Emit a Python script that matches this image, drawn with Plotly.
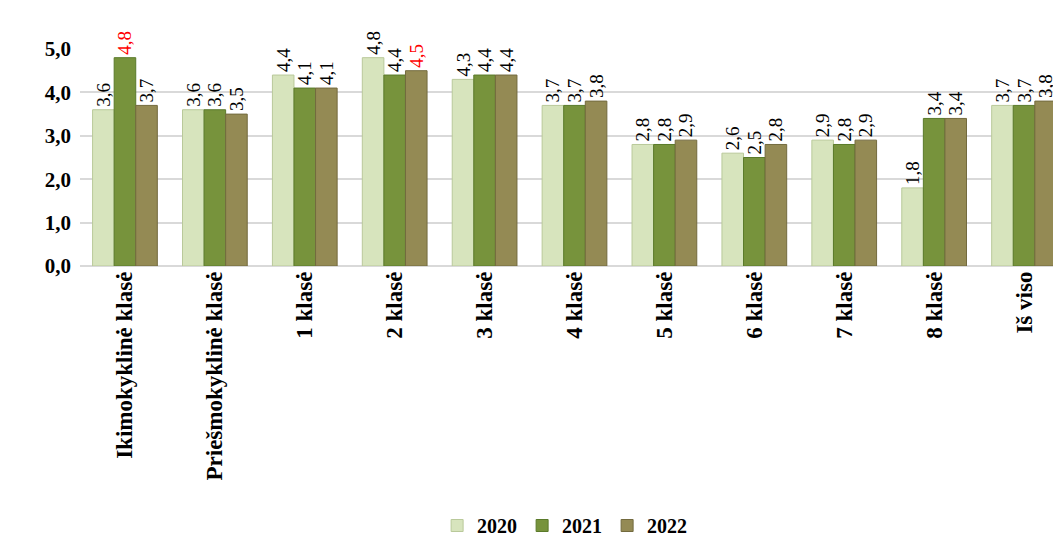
import plotly.graph_objects as go

categories = ["Ikimokyklinė klasė", "Priešmokyklinė klasė", "1 klasė", "2 klasė", "3 klasė",
              "4 klasė", "5 klasė", "6 klasė", "7 klasė", "8 klasė", "Iš viso"]
years = ["2020", "2021", "2022"]
v2020 = [3.6, 3.6, 4.4, 4.8, 4.3, 3.7, 2.8, 2.6, 2.9, 1.8, 3.7]
v2021 = [4.8, 3.6, 4.1, 4.4, 4.4, 3.7, 2.8, 2.5, 2.8, 3.4, 3.7]
v2022 = [3.7, 3.5, 4.1, 4.5, 4.4, 3.8, 2.9, 2.8, 2.9, 3.4, 3.8]
highlight_2021 = ["Ikimokyklinė klasė"]
highlight_2022 = ["2 klasė"]

colors = ["#d7e4bd", "#77933c", "#948a54"]
edge = ["#b9c99a", "#5a7a2a", "#736a3e"]
series = [v2020, v2021, v2022]
highlights = [[], highlight_2021, highlight_2022]

fig = go.Figure()
for name, vals, col, ed, hl in zip(years, series, colors, edge, highlights):
    tcolors = ["#ff0000" if c in hl else "#000000" for c in categories]
    fig.add_trace(go.Bar(
        x=categories, y=vals, name=name,
        marker=dict(color=col, line=dict(color=ed, width=1)),
        text=[f"{v:.1f}".replace(".", ",") for v in vals],
        textposition="outside", textangle=-90, constraintext="none",
        textfont=dict(family="Liberation Serif", size=19, color=tcolors),
        cliponaxis=False,
    ))

fig.update_layout(
    width=1061, height=537,
    barmode="group", bargap=0.28, bargroupgap=0,
    separators=",.",
    plot_bgcolor="white", paper_bgcolor="white",
    margin=dict(l=72, r=0, t=41, b=279),
    font=dict(family="Liberation Serif", color="#000000"),
    showlegend=True,
    legend=dict(orientation="h", x=0.49, xanchor="center", yref="container", y=0.0, yanchor="bottom",
                font=dict(family="Liberation Serif", size=20, weight="bold"), traceorder="normal",
                itemwidth=30),
    uniformtext=dict(mode=False),
)
fig.update_yaxes(range=[0, 5], dtick=1, tickformat=".1f", showgrid=True, gridcolor="#d9d9d9",
                 gridwidth=1.5, zeroline=True, zerolinecolor="#d9d9d9", zerolinewidth=1.5,
                 tickfont=dict(family="Liberation Serif", size=21, weight="bold"), ticks="",
                 showline=False, automargin=False, ticklabelstandoff=8)
fig.update_xaxes(tickangle=-90, tickfont=dict(family="Liberation Serif", size=23, weight="bold"),
                 showline=False, ticks="", automargin=False)

fig.write_html("out.html")
